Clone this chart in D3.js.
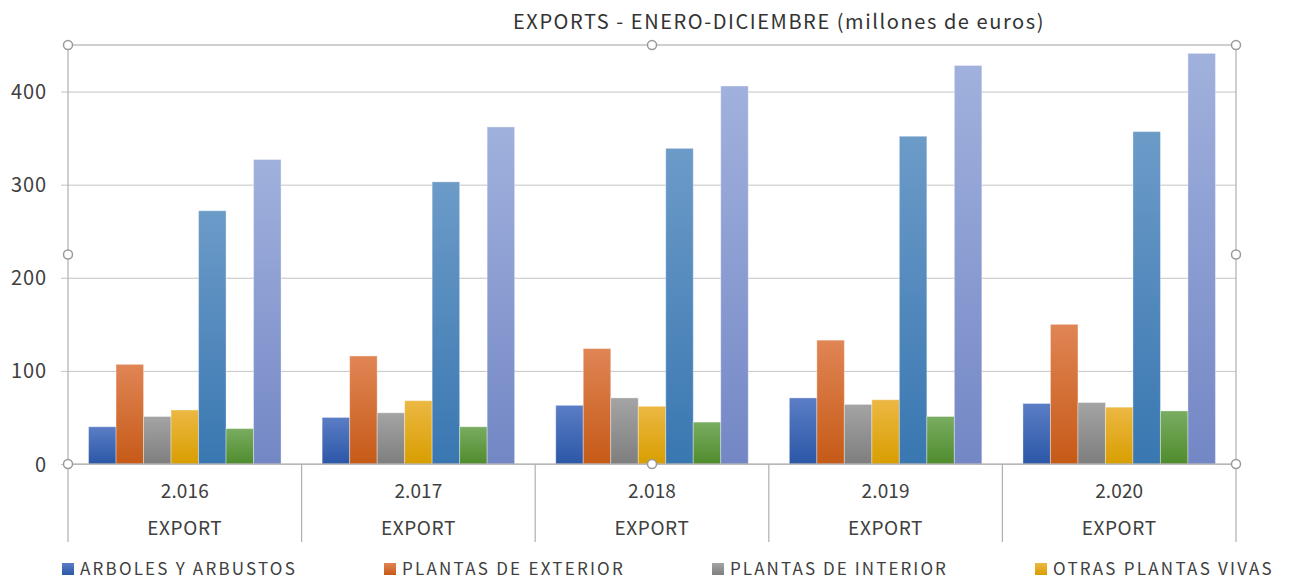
<!DOCTYPE html>
<meta charset="utf-8">
<script src="https://d3js.org/d3.v7.min.js"></script>
<style>
  body { margin: 0; background: #fff; }
  text { font-family: "Noto Sans CJK JP", "Noto Sans", sans-serif; fill: #404040; }
</style>
<div id="chart"></div>
<script>
// years on the axis
var years = ["2.016", "2.017", "2.018", "2.019", "2.020"];
var subLabel = "EXPORT";
var yTicks = [0, 100, 200, 300, 400];

// one array per series (millones de euros)
var arboles   = [40, 50, 63, 71, 65];
var exterior  = [107, 116, 124, 133, 150];
var interior  = [51, 55, 71, 64, 66];
var otras     = [58, 68, 62, 69, 61];
var serie5    = [272, 303, 339, 352, 357];
var serie6    = [38, 40, 45, 51, 57];
var serie7    = [327, 362, 406, 428, 441];

var legendNames = ["ARBOLES Y ARBUSTOS", "PLANTAS DE EXTERIOR", "PLANTAS DE INTERIOR", "OTRAS PLANTAS VIVAS"];

var series = [
  {key: "s1", values: arboles,  top: "#5b7dc5", bottom: "#2b57a7"},
  {key: "s2", values: exterior, top: "#e08555", bottom: "#c65a17"},
  {key: "s3", values: interior, top: "#a4a4a4", bottom: "#7e7e7e"},
  {key: "s4", values: otras,    top: "#ecb843", bottom: "#d89e00"},
  {key: "s5", values: serie5,   top: "#6c9bc8", bottom: "#3977b1"},
  {key: "s6", values: serie6,   top: "#79ac60", bottom: "#4f8c2d"},
  {key: "s7", values: serie7,   top: "#a1b1dd", bottom: "#7387c5"}
];

var W = 1290, H = 579;
var pLeft = 68, pRight = 1236, pTop = 45, zeroY = 464;

// spread letters so a text takes a given width (the original font is wider)
function fitWidth(sel, w) {
  sel.each(function() {
    var t = d3.select(this);
    var n = t.text().length;
    var natural = this.getComputedTextLength();
    t.style("letter-spacing", ((w - natural) / n) + "px");
  });
}

var svg = d3.select("#chart").append("svg")
  .attr("width", W).attr("height", H);

var defs = svg.append("defs");
series.forEach(function(s) {
  var g = defs.append("linearGradient").attr("id", "g_" + s.key)
    .attr("x1", 0).attr("y1", 0).attr("x2", 0).attr("y2", 1);
  g.append("stop").attr("offset", "0%").attr("stop-color", s.top);
  g.append("stop").attr("offset", "100%").attr("stop-color", s.bottom);
});

var x = d3.scaleBand().domain(years).range([pLeft, pRight]);
var gap = x.bandwidth() * 0.088;
var xs = d3.scaleBand().domain(series.map(function(s) { return s.key; }))
  .range([gap, x.bandwidth() - gap]);
var y = d3.scaleLinear().domain([0, 450]).range([zeroY, pTop]);

// title
svg.append("text")
  .attr("x", 513).attr("y", 29)
  .style("font-size", "20px")
  .style("fill", "#333")
  .text("EXPORTS - ENERO-DICIEMBRE (millones de euros)")
  .call(fitWidth, 532);

// gridlines + y axis
var gy = svg.append("g").attr("transform", "translate(" + pLeft + ",0)");
gy.call(d3.axisLeft(y).tickValues(yTicks).tickSize(7).tickPadding(15));
gy.select(".domain").remove();
gy.selectAll(".tick line").attr("x2", pRight - pLeft).attr("x1", -7).attr("stroke", "#c4c4c4");
gy.selectAll(".tick text").style("font-size", "20px").style("fill", "#404040")
  .attr("text-anchor", "start")
  .attr("dy", "0.35em")
  .each(function() {
    var t = d3.select(this);
    var n = t.text().length;
    var target = n * 11.7;
    var natural = this.getComputedTextLength();
    var sp = n > 1 ? (target - natural) / (n - 1) : 0;
    t.style("letter-spacing", sp + "px");
    t.attr("x", -22 - (n > 1 ? target : natural));
  });

// bars
var groups = svg.append("g").selectAll("g")
  .data(years).join("g")
  .attr("transform", function(d) { return "translate(" + x(d) + ",0)"; });

groups.selectAll("rect")
  .data(function(d, i) { return series.map(function(s) { return {key: s.key, v: s.values[i]}; }); })
  .join("rect")
  .attr("x", function(d) { return xs(d.key); })
  .attr("width", xs.bandwidth())
  .attr("y", function(d) { return y(d.v); })
  .attr("height", function(d) { return zeroY - y(d.v); })
  .attr("fill", function(d) { return "url(#g_" + d.key + ")"; })
  .attr("stroke", "rgba(255,255,255,0.35)")
  .attr("stroke-width", 1);

// frame
svg.append("rect")
  .attr("x", pLeft).attr("y", pTop)
  .attr("width", pRight - pLeft).attr("height", zeroY - pTop)
  .attr("fill", "none").attr("stroke", "#b0b0b0").attr("stroke-width", 1.2);

// category dividers
var bounds = years.map(function(d) { return x(d); }).concat([pRight]);
svg.append("g").selectAll("line").data(bounds).join("line")
  .attr("x1", function(d) { return d; }).attr("x2", function(d) { return d; })
  .attr("y1", zeroY).attr("y2", 542)
  .attr("stroke", "#b0b0b0").attr("stroke-width", 1.2);

// category labels
var xl = svg.append("g").selectAll("g").data(years).join("g")
  .attr("transform", function(d) { return "translate(" + (x(d) + x.bandwidth() / 2) + ",0)"; });
xl.append("text").attr("y", 498).attr("text-anchor", "middle")
  .style("font-size", "19px").text(function(d) { return d; })
  .call(fitWidth, 48);
xl.append("text").attr("y", 535).attr("text-anchor", "middle")
  .style("font-size", "19px").text(subLabel)
  .call(fitWidth, 75);

// selection handles
var handles = [[pLeft, pTop], [(pLeft + pRight) / 2, pTop], [pRight, pTop],
               [pLeft, (pTop + zeroY) / 2], [pRight, (pTop + zeroY) / 2],
               [pLeft, zeroY], [(pLeft + pRight) / 2, zeroY], [pRight, zeroY]];
svg.append("g").selectAll("circle").data(handles).join("circle")
  .attr("cx", function(d) { return d[0]; }).attr("cy", function(d) { return d[1]; })
  .attr("r", 4.5).attr("fill", "#fff").attr("stroke", "#9a9a9a").attr("stroke-width", 1.5);

// legend (flow layout)
var legendWidths = [217, 223, 218, 221];
var lg = svg.append("g");
var lx = 62;
legendNames.forEach(function(name, i) {
  lg.append("rect").attr("x", lx).attr("y", 563).attr("width", 12).attr("height", 12)
    .attr("fill", "url(#g_" + series[i].key + ")");
  lg.append("text").attr("x", lx + 18).attr("y", 575)
    .style("font-size", "17px").text(name)
    .call(fitWidth, legendWidths[i]);
  lx += 18 + legendWidths[i] + 87;
});
</script>
